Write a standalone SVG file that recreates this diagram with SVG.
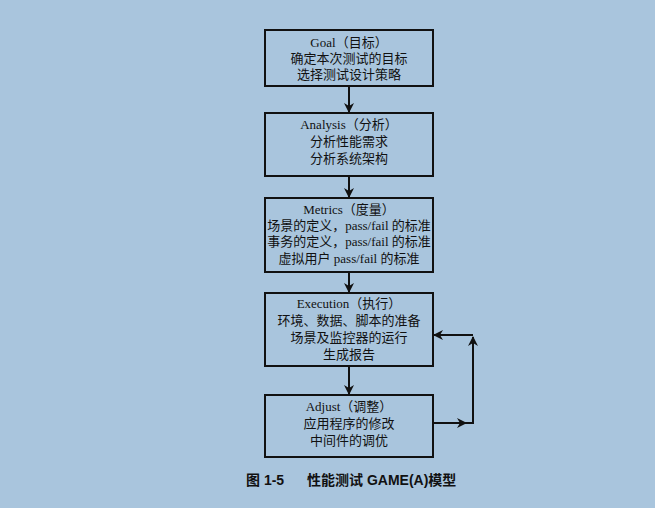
<svg xmlns="http://www.w3.org/2000/svg" width="655" height="508" viewBox="0 0 655 508">
<style>
.box{fill:#a9c5dd;stroke:#111;stroke-width:2}
.t{font-family:"Liberation Serif","Noto Sans CJK SC",serif;font-size:13px;fill:#111;text-anchor:middle}
.c{stroke:#111;stroke-width:2;fill:none}
.cap{font-family:"Liberation Sans","Noto Sans CJK SC",sans-serif;font-size:14px;font-weight:bold;fill:#111}
</style>
<defs><marker id="a" markerWidth="10" markerHeight="10" refX="9" refY="5" orient="auto" markerUnits="userSpaceOnUse"><path d="M0,0 L10,5 L0,10 L3,5 Z" fill="#111"/></marker></defs>
<rect width="655" height="508" fill="#a9c5dd"/>
<g id="goal"><rect class="box" x="265" y="30" width="168" height="56"/>
<text class="t" x="349" y="47">Goal（目标）</text><text class="t" x="349" y="63">确定本次测试的目标</text><text class="t" x="349" y="79">选择测试设计策略</text></g>
<g id="analysis"><rect class="box" x="265" y="113" width="168" height="63"/>
<text class="t" x="349" y="129">Analysis（分析）</text><text class="t" x="349" y="146">分析性能需求</text><text class="t" x="349" y="163">分析系统架构</text></g>
<g id="metrics"><rect class="box" x="265" y="198" width="168" height="74"/>
<text class="t" x="349" y="214">Metrics（度量）</text><text class="t" x="349" y="230">场景的定义，pass/fail 的标准</text><text class="t" x="349" y="246">事务的定义，pass/fail 的标准</text><text class="t" x="349" y="263">虚拟用户 pass/fail 的标准</text></g>
<g id="execution"><rect class="box" x="265" y="293" width="168" height="73"/>
<text class="t" x="349" y="308">Execution（执行）</text><text class="t" x="349" y="325">环境、数据、脚本的准备</text><text class="t" x="349" y="342">场景及监控器的运行</text><text class="t" x="349" y="359">生成报告</text></g>
<g id="adjust"><rect class="box" x="265" y="395" width="168" height="62"/>
<text class="t" x="349" y="411">Adjust（调整）</text><text class="t" x="349" y="428">应用程序的修改</text><text class="t" x="349" y="445">中间件的调优</text></g>
<g id="connectors">
<line class="c" x1="349" y1="86" x2="349" y2="112" marker-end="url(#a)"/>
<line class="c" x1="349" y1="176" x2="349" y2="197" marker-end="url(#a)"/>
<line class="c" x1="349" y1="272" x2="349" y2="292" marker-end="url(#a)"/>
<line class="c" x1="349" y1="366" x2="349" y2="394" marker-end="url(#a)"/>
<line class="c" x1="433" y1="423" x2="466" y2="423" marker-end="url(#a)"/>
<line class="c" x1="462" y1="423" x2="473" y2="423"/>
<line class="c" x1="473" y1="424" x2="473" y2="337" marker-end="url(#a)"/>
<line class="c" x1="473" y1="335" x2="434" y2="335" marker-end="url(#a)"/>
</g>
<text class="cap" x="246" y="485">图 1-5</text>
<text class="cap" x="307" y="485">性能测试 GAME(A)模型</text>
</svg>
